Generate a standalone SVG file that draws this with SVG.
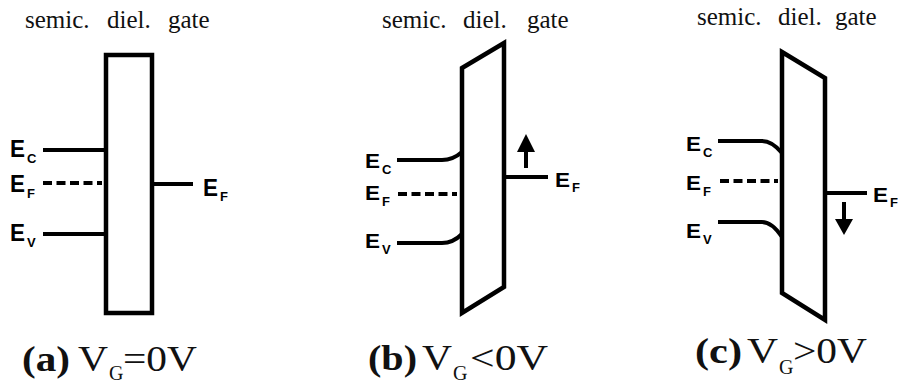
<svg xmlns="http://www.w3.org/2000/svg" width="898" height="385" viewBox="0 0 898 385">
<style>
.bar{fill:#fff;stroke:#000;stroke-width:4.5;stroke-linejoin:miter}
.lvl{fill:none;stroke:#000;stroke-width:4;stroke-linecap:butt}
.dash{fill:none;stroke:#000;stroke-width:4;stroke-dasharray:9 4.5}
.E{font-family:"Liberation Sans",Arial,sans-serif;font-weight:bold;fill:#000}
.sub{font-family:"Liberation Sans",Arial,sans-serif;font-weight:bold;font-size:13px;fill:#000}
.ttl{font-family:"Liberation Serif","Times New Roman",serif;font-size:25px;fill:#111}
.cap{font-family:"Liberation Serif","Times New Roman",serif;font-size:35px;fill:#111}
.capb{font-family:"Liberation Serif","Times New Roman",serif;font-size:35px;font-weight:bold;fill:#111}
.capsub{font-family:"Liberation Serif","Times New Roman",serif;font-size:20px;fill:#111}
</style>
<rect width="898" height="385" fill="#fff"/>

<g id="panel-a">
  <g id="a-title">
    <text class="ttl" x="25" y="28">semic.</text>
    <text class="ttl" x="107" y="28">diel.</text>
    <text class="ttl" x="168" y="28">gate</text>
  </g>
  <g id="a-dielectric"><rect class="bar" x="106" y="55" width="46" height="258"/></g>
  <g id="a-levels">
    <path class="lvl" d="M43,150 H106"/>
    <path class="dash" d="M43,183 H102"/>
    <path class="lvl" d="M43,234 H106"/>
    <path class="lvl" d="M152,184 H193"/>
  </g>
  <g id="a-labels">
    <text class="E" font-size="24" x="10" y="157" textLength="15" lengthAdjust="spacingAndGlyphs">E</text><text class="sub" x="27" y="163">C</text>
    <text class="E" font-size="24" x="10" y="192" textLength="15" lengthAdjust="spacingAndGlyphs">E</text><text class="sub" x="27" y="198" font-size="10px">F</text>
    <text class="E" font-size="24" x="10" y="241" textLength="15" lengthAdjust="spacingAndGlyphs">E</text><text class="sub" x="27" y="247">V</text>
    <text class="E" font-size="24" x="203" y="196" textLength="15" lengthAdjust="spacingAndGlyphs">E</text><text class="sub" x="220" y="201" font-size="10px">F</text>
  </g>
  <g id="a-caption">
    <text class="capb" x="22" y="371" textLength="48" lengthAdjust="spacingAndGlyphs">(a)</text>
    <text class="cap" x="78" y="371" textLength="30" lengthAdjust="spacingAndGlyphs">V</text>
    <text class="capsub" x="109" y="380">G</text>
    <text class="cap" x="123" y="371" textLength="74" lengthAdjust="spacingAndGlyphs">=0V</text>
  </g>
</g>

<g id="panel-b">
  <g id="b-title">
    <text class="ttl" x="382" y="28">semic.</text>
    <text class="ttl" x="463" y="28">diel.</text>
    <text class="ttl" x="527" y="28">gate</text>
  </g>
  <g id="b-dielectric"><polygon class="bar" points="462,68 504,43 504,287 462,313"/></g>
  <g id="b-levels">
    <path class="lvl" d="M397,160 H442 Q453,160 462,152"/>
    <path class="dash" d="M398,194 H457"/>
    <path class="lvl" d="M397,243 H442 Q453,243 462,234"/>
    <path class="lvl" d="M504,177 H548"/>
  </g>
  <g id="b-labels">
    <text class="E" font-size="21" x="365" y="168" textLength="15" lengthAdjust="spacingAndGlyphs">E</text><text class="sub" x="382" y="174">C</text>
    <text class="E" font-size="21" x="365" y="200" textLength="15" lengthAdjust="spacingAndGlyphs">E</text><text class="sub" x="382" y="206" font-size="10px">F</text>
    <text class="E" font-size="21" x="365" y="248" textLength="15" lengthAdjust="spacingAndGlyphs">E</text><text class="sub" x="382" y="254">V</text>
    <text class="E" font-size="21" x="555" y="187" textLength="15" lengthAdjust="spacingAndGlyphs">E</text><text class="sub" x="572" y="192" font-size="10px">F</text>
  </g>
  <g id="b-caption">
    <text class="capb" x="368" y="370" textLength="49" lengthAdjust="spacingAndGlyphs">(b)</text>
    <text class="cap" x="422" y="370" textLength="30" lengthAdjust="spacingAndGlyphs">V</text>
    <text class="capsub" x="453" y="380">G</text>
    <text class="cap" x="470" y="370" textLength="78" lengthAdjust="spacingAndGlyphs">&lt;0V</text>
  </g>
</g>

<g id="panel-c">
  <g id="c-title">
    <text class="ttl" x="697" y="25">semic.</text>
    <text class="ttl" x="778" y="25">diel.</text>
    <text class="ttl" x="835" y="25">gate</text>
  </g>
  <g id="c-dielectric"><polygon class="bar" points="782,52 825,78 825,320 782,293"/></g>
  <g id="c-levels">
    <path class="lvl" d="M718,141 H762 Q772,141 782,153"/>
    <path class="dash" d="M720,181 H778"/>
    <path class="lvl" d="M718,222 H762 Q772,222 782,237"/>
    <path class="lvl" d="M825,193 H867"/>
  </g>
  <g id="c-labels">
    <text class="E" font-size="21" x="686" y="151" textLength="15" lengthAdjust="spacingAndGlyphs">E</text><text class="sub" x="703" y="157">C</text>
    <text class="E" font-size="21" x="686" y="190" textLength="15" lengthAdjust="spacingAndGlyphs">E</text><text class="sub" x="703" y="196" font-size="10px">F</text>
    <text class="E" font-size="21" x="686" y="238" textLength="15" lengthAdjust="spacingAndGlyphs">E</text><text class="sub" x="703" y="244">V</text>
    <text class="E" font-size="21" x="873" y="202" textLength="15" lengthAdjust="spacingAndGlyphs">E</text><text class="sub" x="890" y="207" font-size="10px">F</text>
  </g>
  <g id="c-caption">
    <text class="capb" x="695" y="363" textLength="47" lengthAdjust="spacingAndGlyphs">(c)</text>
    <text class="cap" x="747" y="363" textLength="31" lengthAdjust="spacingAndGlyphs">V</text>
    <text class="capsub" x="779" y="374">G</text>
    <text class="cap" x="793" y="363" textLength="74" lengthAdjust="spacingAndGlyphs">&gt;0V</text>
  </g>
</g>

<g id="connectors">
  <path class="lvl" d="M526,168 V150"/>
  <polygon points="517,152 535,152 526,134" fill="#000"/>
  <path class="lvl" d="M844,202 V221"/>
  <polygon points="835,219 853,219 844,235" fill="#000"/>
</g>
</svg>
